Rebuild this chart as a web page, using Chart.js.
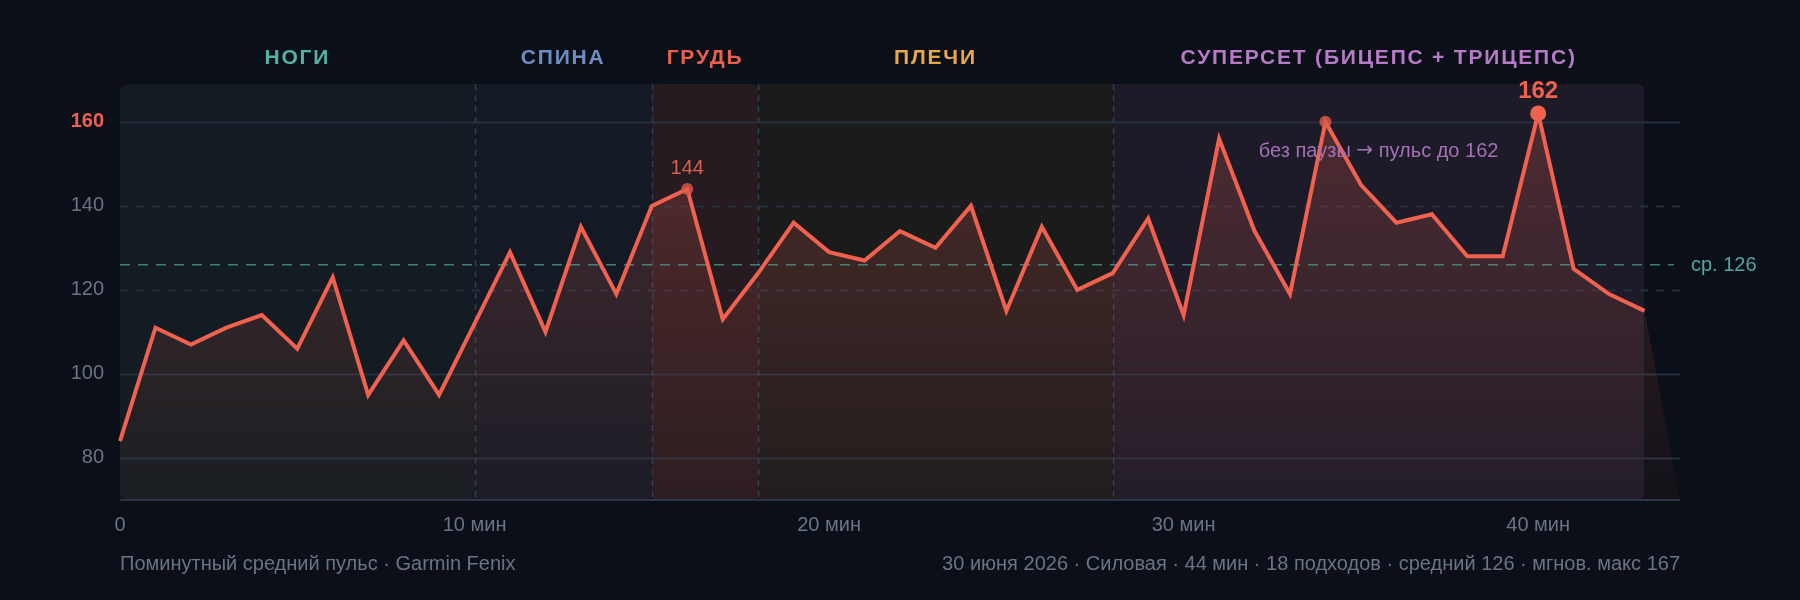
<!DOCTYPE html>
<html><head><meta charset="utf-8">
<script src="https://cdn.jsdelivr.net/npm/chart.js@4.4.1/dist/chart.umd.min.js"></script>
<style>
html,body{margin:0;padding:0;background:#0b0f17;}
#wrap{width:1800px;height:600px;position:relative;}
canvas{display:block;}
</style></head><body>
<div id="wrap"><canvas id="c" width="1800" height="600"></canvas></div>
<script>
// ---- data ----
const minutes = [0,1,2,3,4,5,6,7,8,9,10,11,12,13,14,15,16,17,18,19,20,21,22,23,24,25,26,27,28,29,30,31,32,33,34,35,36,37,38,39,40,41,42,43];
const heartRate = [84,111,107,111,114,106,123,95,108,95,112,129,110,135,119,140,144,113,124,136,129,127,134,130,140,115,135,120,124,137,114,156,134,119,160,145,136,138,128,128,162,125,119,115];
const tailMinute = 44;
const tailValue = 70;

const sectionNames = ['НОГИ','СПИНА','ГРУДЬ','ПЛЕЧИ','СУПЕРСЕТ (БИЦЕПС + ТРИЦЕПС)'];
const sectionStart = [0,10,15,18,28];
const sectionEnd = [10,15,18,28,43];

const yTickValues = [80,100,120,140,160];
const dashedYTicks = [120,140];
const xTickValues = [0,10,20,30,40];
const xTickLabels = ['0','10 мин','20 мин','30 мин','40 мин'];

const avgValue = 126;
const avgLabel = 'ср. 126';
const smallPeakIdx = [16,34];
const maxPeakIdx = 40;
const peakLabels = {16:'144', 40:'162'};
const annotationParts = ['без паузы ', '→', ' пульс до 162'];
const annotationAt = {x:35.5, y:153};
const footerLeft = 'Поминутный средний пульс · Garmin Fenix';
const footerRight = '30 июня 2026 · Силовая · 44 мин · 18 подходов · средний 126 · мгнов. макс 167';

// ---- styles ----
const PAGE_BG = '#0b0f17';
const LINE = '#f0614f';
const sectionLabelColors = ['#52b3a3','#6d8ec2','#e8614f','#eca64a','#b77ac6'];
const sectionBandColors = ['#131c22','#141a25','#261b20','#1b1b1c','#1d1b28'];
const FONT = '"Liberation Sans", Arial, sans-serif';
const GRID = '#252f3d';
const TEXT_GRAY = '#6b7385';

const points = minutes.map((m,i)=>({x:m, y:heartRate[i]}));
points.push({x:tailMinute, y:tailValue});

function rr(ctx,x,y,w,h,r){
  ctx.beginPath();
  ctx.moveTo(x+r,y);ctx.lineTo(x+w-r,y);ctx.quadraticCurveTo(x+w,y,x+w,y+r);
  ctx.lineTo(x+w,y+h-r);ctx.quadraticCurveTo(x+w,y+h,x+w-r,y+h);
  ctx.lineTo(x+r,y+h);ctx.quadraticCurveTo(x,y+h,x,y+h-r);
  ctx.lineTo(x,y+r);ctx.quadraticCurveTo(x,y,x+r,y);ctx.closePath();
}

const decor = {
  id:'decor',
  beforeDraw(chart){
    const {ctx, chartArea:a, scales:{x,y}} = chart;
    ctx.save();
    ctx.fillStyle = PAGE_BG; ctx.fillRect(0,0,chart.width,chart.height);
    const x0 = x.getPixelForValue(sectionStart[0]);
    const x1 = x.getPixelForValue(sectionEnd[sectionEnd.length-1]);
    rr(ctx,x0,a.top,x1-x0,a.bottom-a.top,8);
    ctx.clip();
    sectionNames.forEach((n,i)=>{
      const sx = x.getPixelForValue(sectionStart[i]);
      const ex = x.getPixelForValue(sectionEnd[i]);
      ctx.fillStyle = sectionBandColors[i];
      if(i===2){ rr(ctx,sx,a.top,ex-sx,a.bottom-a.top,6); ctx.fill(); }
      else ctx.fillRect(sx,a.top,ex-sx,a.bottom-a.top);
    });
    ctx.restore();
  },
  beforeDatasetsDraw(chart){
    const {ctx, chartArea:a, scales:{x,y}} = chart;
    ctx.save();
    yTickValues.forEach(v=>{
      const py = Math.round(y.getPixelForValue(v))+0.5;
      ctx.strokeStyle = GRID; ctx.lineWidth = 2;
      ctx.setLineDash(dashedYTicks.includes(v)?[8,8]:[]);
      ctx.beginPath(); ctx.moveTo(a.left,py); ctx.lineTo(a.right,py); ctx.stroke();
    });
    ctx.setLineDash([6,5]); ctx.strokeStyle = '#2e3c50'; ctx.lineWidth = 1.5;
    sectionStart.slice(1).forEach(s=>{
      const px = Math.round(x.getPixelForValue(s))+0.5;
      ctx.beginPath(); ctx.moveTo(px,a.top); ctx.lineTo(px,a.bottom); ctx.stroke();
    });
    ctx.setLineDash([]); ctx.strokeStyle = '#2a3445'; ctx.lineWidth = 2;
    ctx.beginPath(); ctx.moveTo(a.left,a.bottom); ctx.lineTo(a.right,a.bottom); ctx.stroke();
    ctx.restore();
  },
  beforeDatasetDraw(chart){
    const {ctx, chartArea:a, scales:{x,y}} = chart;
    ctx.save();
    const py = y.getPixelForValue(avgValue);
    ctx.strokeStyle = 'rgba(78,160,148,0.75)'; ctx.lineWidth = 1.5; ctx.setLineDash([10,8]);
    ctx.beginPath(); ctx.moveTo(a.left,py); ctx.lineTo(a.right-6,py); ctx.stroke();
    ctx.restore();
  },
  afterDraw(chart){
    const {ctx, chartArea:a, scales:{x,y}} = chart;
    const meta = chart.getDatasetMeta(0);
    ctx.save();
    ctx.textBaseline = 'middle';
    // section labels
    ctx.font = 'bold 21px '+FONT; ctx.textAlign='center';
    try{ ctx.letterSpacing='1.8px'; }catch(e){}
    sectionNames.forEach((n,i)=>{
      ctx.fillStyle = sectionLabelColors[i];
      ctx.fillText(n, x.getPixelForValue((sectionStart[i]+sectionEnd[i])/2), 58);
    });
    try{ ctx.letterSpacing='0px'; }catch(e){}
    // peak labels
    const p16 = meta.data[16];
    ctx.fillStyle = '#d9604e'; ctx.font = '20px '+FONT;
    ctx.fillText(peakLabels[16], p16.x, p16.y-21);
    const p40 = meta.data[maxPeakIdx];
    ctx.fillStyle = LINE; ctx.font = 'bold 24px '+FONT;
    ctx.fillText(peakLabels[40], p40.x, p40.y-22);
    // annotation (arrow in a font with a full-width arrow glyph)
    ctx.fillStyle = '#a470b6';
    const fonts = ['20px '+FONT, '20px "DejaVu Sans", sans-serif', '20px '+FONT];
    const widths = annotationParts.map((t,i)=>{ ctx.font = fonts[i]; return ctx.measureText(t).width; });
    const total = widths.reduce((s,w)=>s+w,0);
    let ax = x.getPixelForValue(annotationAt.x) - total/2;
    const ay = y.getPixelForValue(annotationAt.y);
    ctx.textAlign='left';
    annotationParts.forEach((t,i)=>{ ctx.font = fonts[i]; ctx.fillText(t, ax, ay); ax += widths[i]; });
    // avg label
    ctx.textAlign='left'; ctx.fillStyle = '#4ea89b'; ctx.font = '20px '+FONT;
    ctx.fillText(avgLabel, a.right+11, y.getPixelForValue(avgValue)+1);
    // footer
    ctx.fillStyle = TEXT_GRAY; ctx.font = '20px '+FONT;
    ctx.fillText(footerLeft, a.left, 564);
    ctx.textAlign='right';
    ctx.fillText(footerRight, a.right, 564);
    ctx.restore();
  }
};

const ctx = document.getElementById('c').getContext('2d');
new Chart(ctx, {
  type:'line',
  data:{datasets:[{
    data: points,
    borderColor: LINE,
    borderWidth: 4,
    tension: 0,
    fill: 'start',
    backgroundColor(c){
      const a = c.chart.chartArea; if(!a) return 'rgba(240,96,80,0.12)';
      const g = c.chart.ctx.createLinearGradient(0,a.top,0,a.bottom);
      g.addColorStop(0,'rgba(240,96,80,0.25)');
      g.addColorStop(1,'rgba(240,96,80,0.03)');
      return g;
    },
    segment:{ borderColor: s => s.p1DataIndex === heartRate.length ? 'rgba(0,0,0,0)' : undefined },
    pointRadius: c => c.dataIndex===maxPeakIdx ? 8 : (smallPeakIdx.includes(c.dataIndex) ? 6 : 0),
    pointBackgroundColor: c => c.dataIndex===maxPeakIdx ? LINE : 'rgba(222,90,75,0.8)',
    pointBorderWidth: 0,
    pointHoverRadius: 0,
    borderJoinStyle:'miter',
    clip: false
  }]},
  options:{
    responsive:false, animation:false, devicePixelRatio:1,
    layout:{padding:{top:84,right:120,left:0,bottom:0}},
    plugins:{legend:{display:false}, tooltip:{enabled:false}},
    scales:{
      x:{type:'linear', min:0, max:44,
        afterBuildTicks(s){ s.ticks = xTickValues.map(v=>({value:v})); },
        afterFit(s){ s.height = 100; },
        grid:{display:false, drawTicks:false}, border:{display:false},
        ticks:{padding:13, color:TEXT_GRAY, font:{family:FONT,size:20},
          callback:(v)=>xTickLabels[xTickValues.indexOf(v)]}
      },
      y:{min:70, max:169,
        afterBuildTicks(s){ s.ticks = yTickValues.map(v=>({value:v})); },
        afterFit(s){ s.width = 120; },
        grid:{display:false, drawTicks:false}, border:{display:false},
        ticks:{padding:16, color: c => c.tick && c.tick.value===160 ? LINE : TEXT_GRAY,
          font: c => ({family:FONT, size:20, weight: c.tick && c.tick.value===160 ? 'bold':'normal'})}
      }
    }
  },
  plugins:[decor]
});
</script>
</body></html>
